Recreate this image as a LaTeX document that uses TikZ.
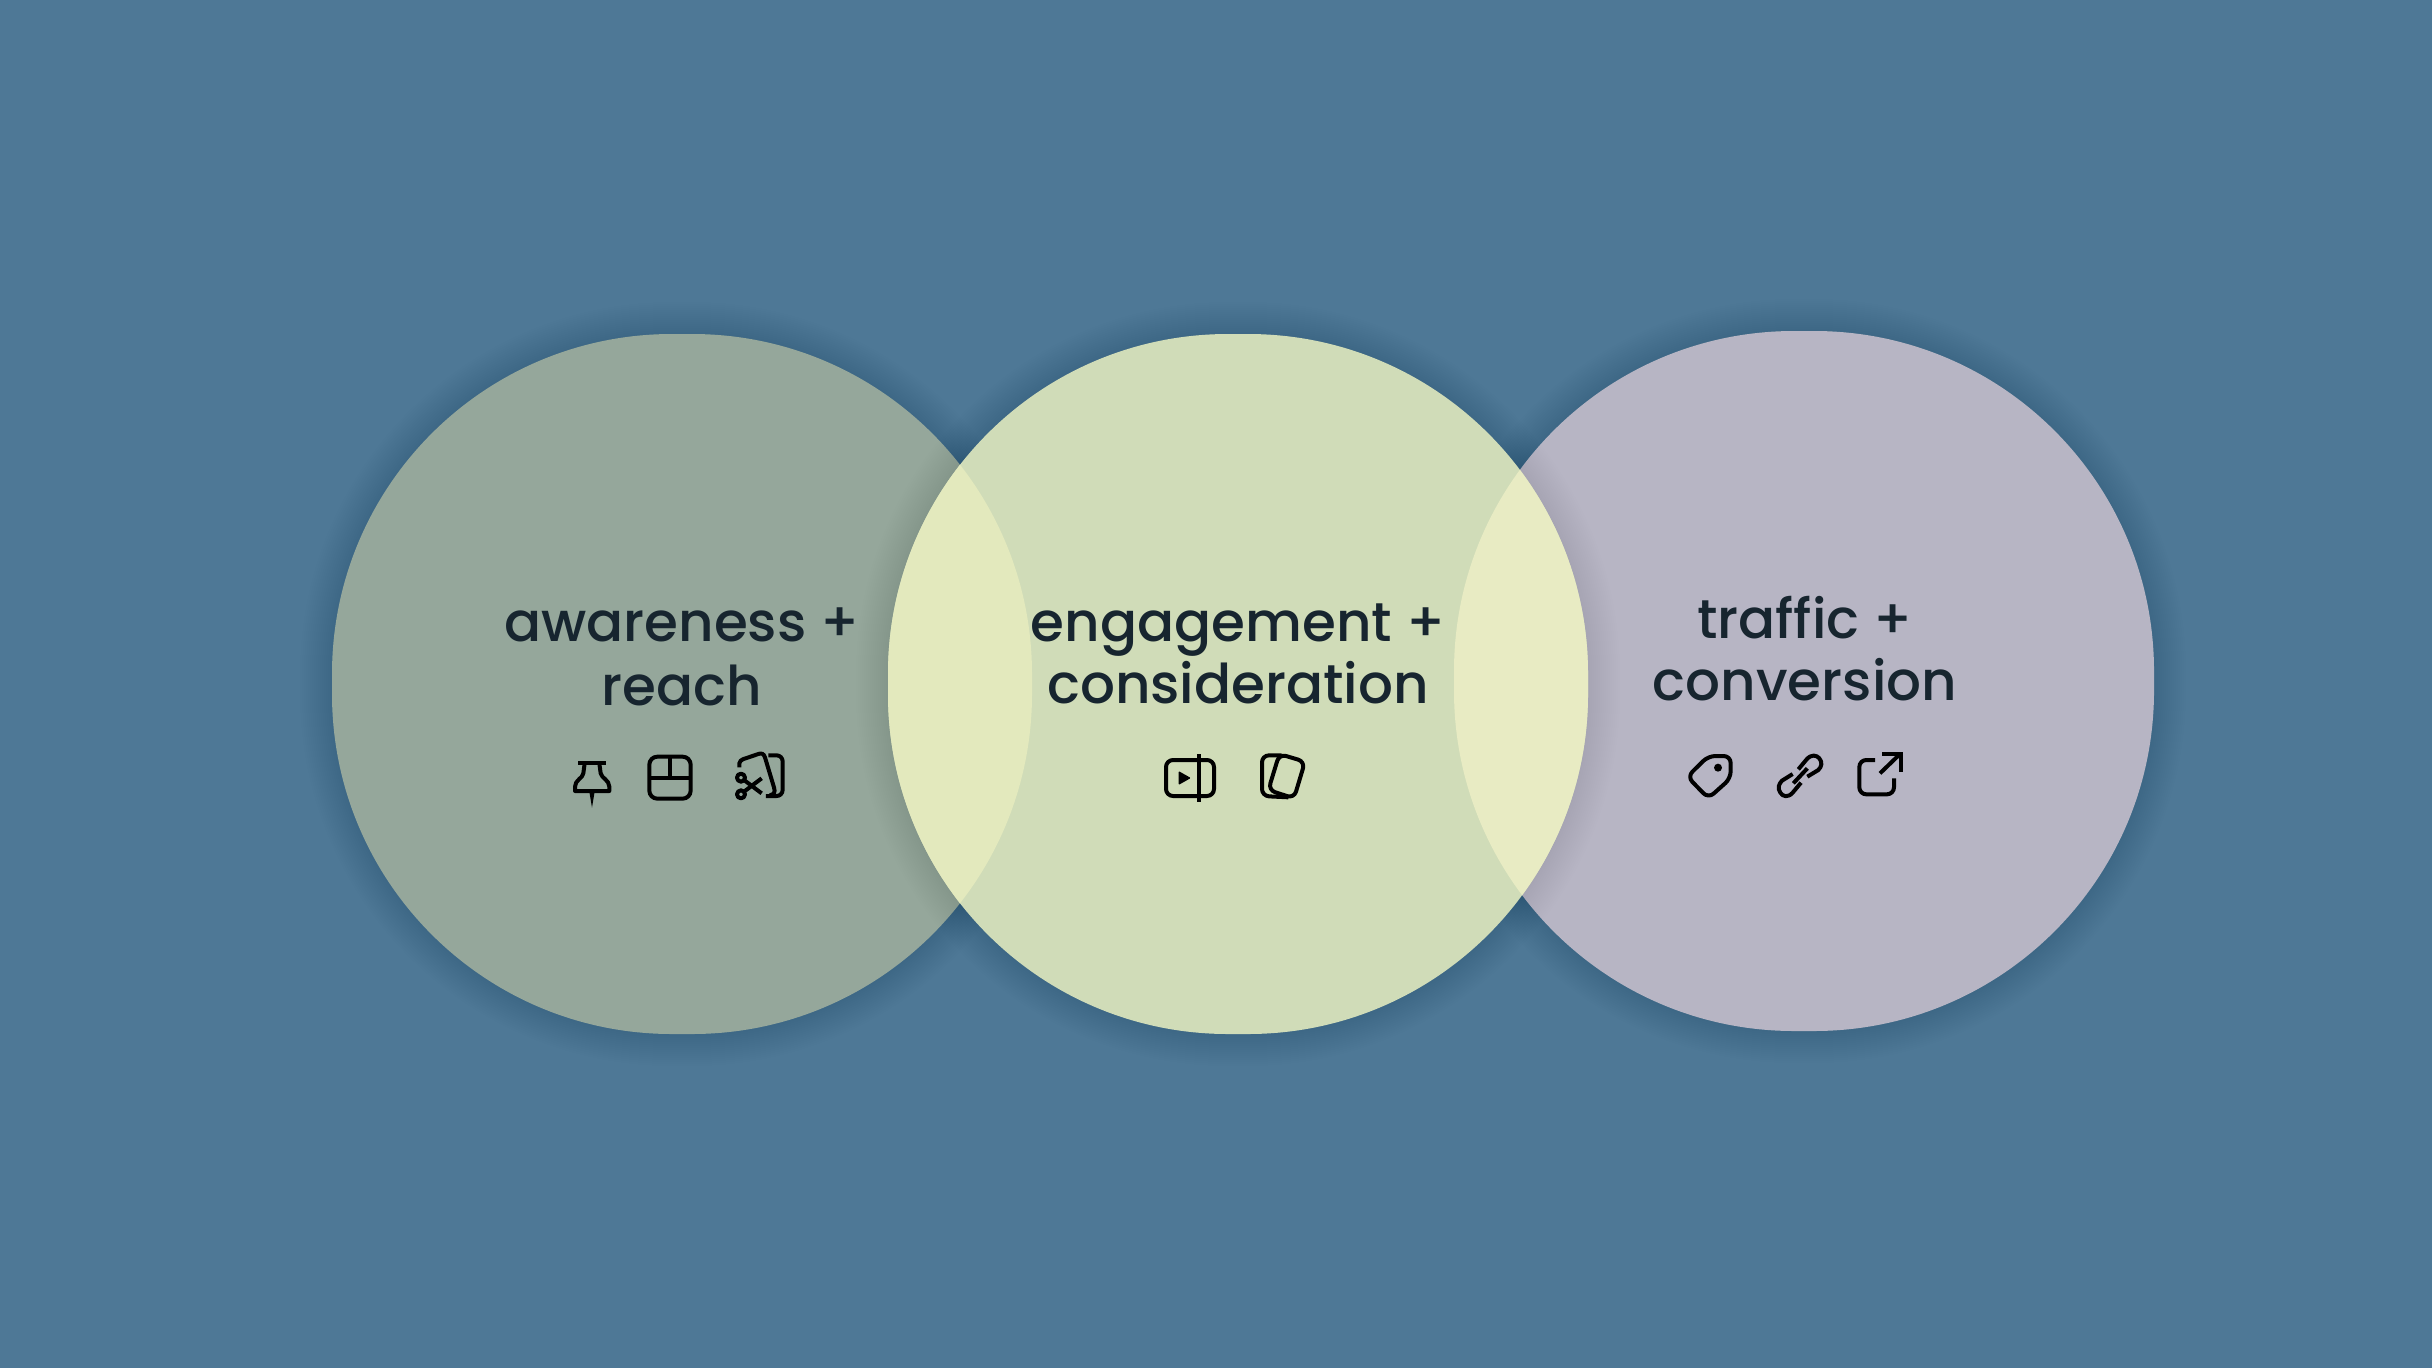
\documentclass[tikz,border=0pt]{standalone}
\usepackage{fontspec}
\setmainfont{Poppins Medium}
\definecolor{bgc}{HTML}{4E7896}
\definecolor{cone}{HTML}{95A79B}
\definecolor{ctwo}{HTML}{D0DCB8}
\definecolor{cthree}{HTML}{B7B5C4}
\definecolor{lapone}{HTML}{E3E9BD}
\definecolor{laptwo}{HTML}{E8EBC3}
\definecolor{ink}{HTML}{17252F}
\definecolor{shade}{HTML}{2A3F50}
\newcommand{\blobone}{(332,334) rectangle (1032,1034)}
\newcommand{\blobtwo}{(888,334) rectangle (1588,1034)}
\newcommand{\blobthree}{(1454,331) rectangle (2154,1031)}
\newcommand{\softshadow}[1]{%
  \foreach \w in {4,8,...,64}{%
    \draw[shade,opacity=0.0035,line width=\w pt,rounded corners=340pt] #1;}}
\tikzset{
  blob/.style={rounded corners=340pt},
  label/.style={font=\fontsize{54.8}{64}\selectfont,text=ink,align=center,anchor=base,inner sep=0pt},
  icon/.style={line width=4pt,draw=black,line join=round},
  iconat/.style={shift={#1},x=0.3333pt,y=-0.3333pt}
}
\begin{document}
\begin{tikzpicture}[x=1pt,y=-1pt]
\useasboundingbox (0,0) rectangle (2432,1368);
\fill[bgc] (0,0) rectangle (2432,1368);
% blobs and their soft shadows
\softshadow{\blobone}
\fill[cone,blob] \blobone;
\softshadow{\blobthree}
\fill[cthree,blob] \blobthree;
\softshadow{\blobtwo}
\fill[ctwo,blob] \blobtwo;
% overlaps
\begin{scope}
  \clip[blob] \blobone;
  \fill[lapone,blob] \blobtwo;
\end{scope}
\begin{scope}
  \clip[blob] \blobthree;
  \fill[laptwo,blob] \blobtwo;
\end{scope}
% labels
\node[label] (awareness) at (682,705.5) {awareness +\\reach};
\node[label] (engagement) at (1238,703.5) {engagement +\\[-2pt]consideration};
\node[label] (traffic) at (1805,700) {traffic +\\[-2pt]conversion};
% icons: first group
\begin{scope}[iconat={(550pt,-730pt)}]
  % pin
  \draw[icon] (85,100) -- (168,100);
  \draw[icon] (104,100) -- (100,130) .. controls (98,145) and (75,150) .. (75,170) -- (75,183) -- (178,183) -- (178,170) .. controls (178,150) and (155,145) .. (152,130) -- (148,100);
  \fill (118,185) -- (134,185) -- (126,233) -- cycle;
  % grid
  \draw[icon,rounded corners=8pt] (298,80) rectangle (422,206);
  \draw[icon] (298,143) -- (422,143);
  \draw[icon] (360,80) -- (360,143);
  % scissors and clips
  \draw[icon] (568,112) .. controls (565,92) and (575,88) .. (590,84) -- (625,72) .. controls (635,68) and (642,72) .. (645,82) -- (672,172) .. controls (677,188) and (672,192) .. (660,196);
  \draw[icon,rounded corners=6pt] (655,76) -- (698,76) -- (698,198) -- (648,198);
  \draw[icon] (573,143) circle[radius=12];
  \draw[icon] (573,193) circle[radius=12];
  \draw[icon] (582,185) -- (635,145);
  \draw[icon] (582,150) -- (635,190);
\end{scope}
% icons: second group
\begin{scope}[iconat={(1140pt,-730pt)}]
  \draw[icon,rounded corners=7pt] (78,90) rectangle (222,198);
  \draw[icon] (176,72) -- (176,215);
  \fill[line join=round,draw=black,line width=1.5pt] (118,127) -- (118,161) -- (148,144) -- cycle;
  \draw[icon,rounded corners=7pt] (425,76) -- (366,76) -- (366,198) -- (445,202);
  \draw[icon,rounded corners=7pt,fill=ctwo] (418,72) -- (495,95) -- (462,205) -- (385,180) -- cycle;
\end{scope}
% icons: third group
\begin{scope}[iconat={(1670pt,-730pt)}]
  \draw[icon,rounded corners=7pt] (115,78) -- (182,78) -- (182,145) -- (115,205) -- (52,140) -- cycle;
  \fill (144,113) circle[radius=12];
  \draw[icon] (370,160) -- (412,115);
  \draw[icon] (385,118) -- (410,88) .. controls (424,72) and (440,75) .. (448,85) .. controls (458,97) and (455,110) .. (445,120) -- (412,140);
  \draw[icon] (393,158) -- (368,188) .. controls (354,204) and (338,200) .. (331,188) .. controls (322,175) and (326,162) .. (336,152) -- (368,132);
  \draw[icon,rounded corners=7pt] (615,90) -- (568,90) -- (568,193) -- (672,193) -- (672,145);
  \draw[icon] (630,130) -- (688,74);
  \draw[icon,line join=miter] (636,72) -- (692,72) -- (692,125);
\end{scope}
\end{tikzpicture}
\end{document}
